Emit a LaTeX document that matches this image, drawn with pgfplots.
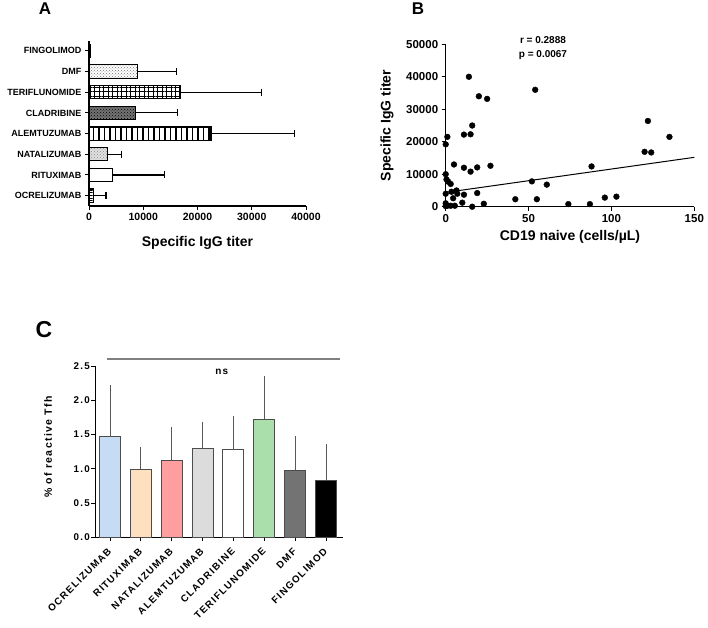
\documentclass[border=0pt]{standalone}
\usepackage{fontspec}
\setmainfont{Liberation Sans}
\newfontfamily\spaced[LetterSpace=13]{Liberation Sans}
\usepackage{pgfplots}
\pgfplotsset{compat=1.18}
\usetikzlibrary{patterns,patterns.meta}

\definecolor{cOcr}{RGB}{198,220,245}
\definecolor{cRit}{RGB}{253,224,192}
\definecolor{cNat}{RGB}{255,158,158}
\definecolor{cAle}{RGB}{220,220,220}
\definecolor{cTer}{RGB}{170,222,170}
\definecolor{cDmf}{RGB}{115,115,115}

\pgfplotsset{
  gp/.style={
    scale only axis,
    axis lines=left,
    axis line style={-, line width=1.1pt},
    tick align=outside,
    major tick length=4pt,
    tick style={line width=1pt, black},
    /pgf/number format/assume math mode=true,
    /pgf/number format/1000 sep={},
    scaled ticks=false,
    clip=false,
  },
}

\begin{document}
\begin{tikzpicture}
\useasboundingbox (0,0) rectangle (708pt,-627pt);

% panel letters
\node[font=\bfseries\fontsize{17}{17}\selectfont] at (45pt,-9pt) {A};
\node[font=\bfseries\fontsize{17}{17}\selectfont] at (418pt,-9pt) {B};
\node[font=\bfseries\fontsize{23}{23}\selectfont] at (44pt,-330pt) {C};

% ---------------- A: titers per treatment
\begin{axis}[gp,
    at={(89pt,-206pt)}, anchor=south west,
    width=217pt, height=165.5pt,
    xbar, bar width=13.3pt, bar shift=0pt,
    xmin=0, xmax=40000, ymin=0.5, ymax=8.5,
    xtick={0,10000,...,40000},
    ytick={1,...,8},
    yticklabels={OCRELIZUMAB,RITUXIMAB,NATALIZUMAB,ALEMTUZUMAB,CLADRIBINE,TERIFLUNOMIDE,DMF,FINGOLIMOD},
    x tick label style={font=\bfseries\fontsize{10.5}{12}\selectfont},
    y tick label style={font=\bfseries\fontsize{9}{10}\selectfont},
    xlabel={Specific IgG titer},
    xlabel style={font=\bfseries\fontsize{14}{16}\selectfont, at={(axis description cs:0.5,-0.2236)}, anchor=center},
    error bars/x dir=plus, error bars/x explicit,
    error bars/error bar style={line width=1.1pt, black},
    error bars/error mark options={line width=1.1pt, black, mark size=3.5pt, rotate=90},
]
\addplot[draw=black, line width=1.1pt, fill=white, postaction={pattern={Lines[angle=0,distance=2.6pt,line width=0.8pt]}}]
  coordinates {(800,1) +- (2330,0)};
\addplot[draw=black, line width=1.1pt, fill=white]
  coordinates {(4300,2) +- (9580,0)};
\addplot[draw=black, line width=1.1pt, fill=black!12, postaction={pattern=crosshatch dots, pattern color=black!45}]
  coordinates {(3450,3) +- (2580,0)};
\addplot[draw=black, line width=1.1pt, fill=white, postaction={pattern={Lines[angle=90,distance=5.5pt,line width=1.4pt]}}]
  coordinates {(22490,4) +- (15350,0)};
\addplot[draw=black, line width=1.1pt, fill=black!55, postaction={pattern=crosshatch dots, pattern color=black}]
  coordinates {(8530,5) +- (7810,0)};
\addplot[draw=black, line width=1.1pt, fill=white, postaction={pattern={Lines[angle=0,distance=4.5pt,line width=0.9pt]}}, postaction={pattern={Lines[angle=90,distance=4.5pt,line width=0.9pt]}}]
  coordinates {(16770,6) +- (15060,0)};
\addplot[draw=black, line width=1.1pt, fill=white, postaction={pattern=crosshatch dots, pattern color=black!55}]
  coordinates {(8900,7) +- (7260,0)};
\addplot[draw=black, line width=1.1pt, fill=black]
  coordinates {(200,8) +- (150,0)};
\end{axis}

% ---------------- B: correlation
\begin{axis}[gp,
    at={(445.7pt,-206.7pt)}, anchor=south west,
    width=248.6pt, height=162.4pt,
    xmin=0, xmax=150, ymin=0, ymax=50000,
    xtick={0,50,100,150},
    ytick={0,10000,...,50000},
    tick label style={font=\bfseries\fontsize{11.5}{13}\selectfont},
    xlabel={CD19 naive (cells/µL)},
    ylabel={Specific IgG titer},
    xlabel style={font=\bfseries\fontsize{14}{16}\selectfont, at={(axis description cs:0.5,-0.188)}, anchor=center},
    ylabel style={font=\bfseries\fontsize{14}{16}\selectfont, at={(axis description cs:-0.236,0.5)}, anchor=center, rotate=0},
]
\addplot[only marks, mark=*, mark size=2.9pt, black] coordinates {
  (0,19200) (1,21500) (14,40000) (54,36000) (20,34000) (25,33200)
  (16,25000) (11,22200) (15,22300) (122,26400) (135,21500) (120,16900)
  (124,16700) (5,13000) (11,12000) (15,10800) (19,12100) (27,12600)
  (88,12400) (0,10000) (0.5,8400) (1.5,7700) (3,7000) (52,7800)
  (61,6800) (0,4000) (3.5,4600) (6.5,5000) (7,4000) (4.5,2600)
  (11,3700) (19,4200) (0,1050) (1,300) (3,300) (5.5,300)
  (10,1250) (16,0) (23,900) (42,2300) (55,2300) (74,800)
  (87,800) (96,2800) (103,3100) (0,200)
};
\addplot[black, line width=1pt] coordinates {(0,4400) (150,15200)};
\node[font=\bfseries\fontsize{10}{12}\selectfont] at (axis cs:58.7,51320) {r = 0.2888};
\node[font=\bfseries\fontsize{10}{12}\selectfont] at (axis cs:58.7,46700) {p = 0.0067};
\end{axis}

% ---------------- C: reactive Tfh
\begin{axis}[gp,
    at={(95.3pt,-537.3pt)}, anchor=south west,
    width=247.7pt, height=171.3pt,
    ybar, bar width=21pt, bar shift=0pt,
    xmin=0.52, xmax=8.55, ymin=0, ymax=2.5,
    ytick={0,0.5,1,1.5,2,2.5},
    xtick={1,...,8},
    xticklabels={OCRELIZUMAB,RITUXIMAB,NATALIZUMAB,ALEMTUZUMAB,CLADRIBINE,TERIFLUNOMIDE,DMF,FINGOLIMOD},
    tick label style={font=\spaced\bfseries\fontsize{9.8}{11}\selectfont},
    y tick label style={xshift=2pt, /pgf/number format/fixed, /pgf/number format/fixed zerofill, /pgf/number format/precision=1},
    x tick label style={yshift=-6pt, xshift=2pt, rotate=45, anchor=east},
    ylabel={\% of reactive Tfh},
    ylabel style={font=\spaced\bfseries\fontsize{10.5}{12}\selectfont, at={(axis description cs:-0.19,0.527)}, anchor=center},
    error bars/y dir=plus, error bars/y explicit,
    error bars/error bar style={line width=1pt, black!65},
    error bars/error mark options={line width=1pt, black!65, mark size=5pt},
]
\addplot[fill=cOcr, draw=black!70, line width=1pt] coordinates {(1,1.47) +- (0,0.68)};
\addplot[fill=cRit, draw=black!70, line width=1pt] coordinates {(2,0.99) +- (0,0.255)};
\addplot[fill=cNat, draw=black!70, line width=1pt] coordinates {(3,1.12) +- (0,0.42)};
\addplot[fill=cAle, draw=black!70, line width=1pt] coordinates {(4,1.29) +- (0,0.32)};
\addplot[fill=white, draw=black!70, line width=1pt] coordinates {(5,1.28) +- (0,0.42)};
\addplot[fill=cTer, draw=black!70, line width=1pt] coordinates {(6,1.72) +- (0,0.56)};
\addplot[fill=cDmf, draw=black!70, line width=1pt] coordinates {(7,0.98) +- (0,0.42)};
\addplot[fill=black, draw=black!70, line width=1pt] coordinates {(8,0.83) +- (0,0.46)};
\draw[black!50, line width=1.5pt] (axis cs:0.903,2.602) -- (axis cs:8.45,2.602);
\node[font=\spaced\bfseries\fontsize{10}{11}\selectfont] at (axis cs:4.62,2.417) {ns};
\end{axis}
\end{tikzpicture}
\end{document}
